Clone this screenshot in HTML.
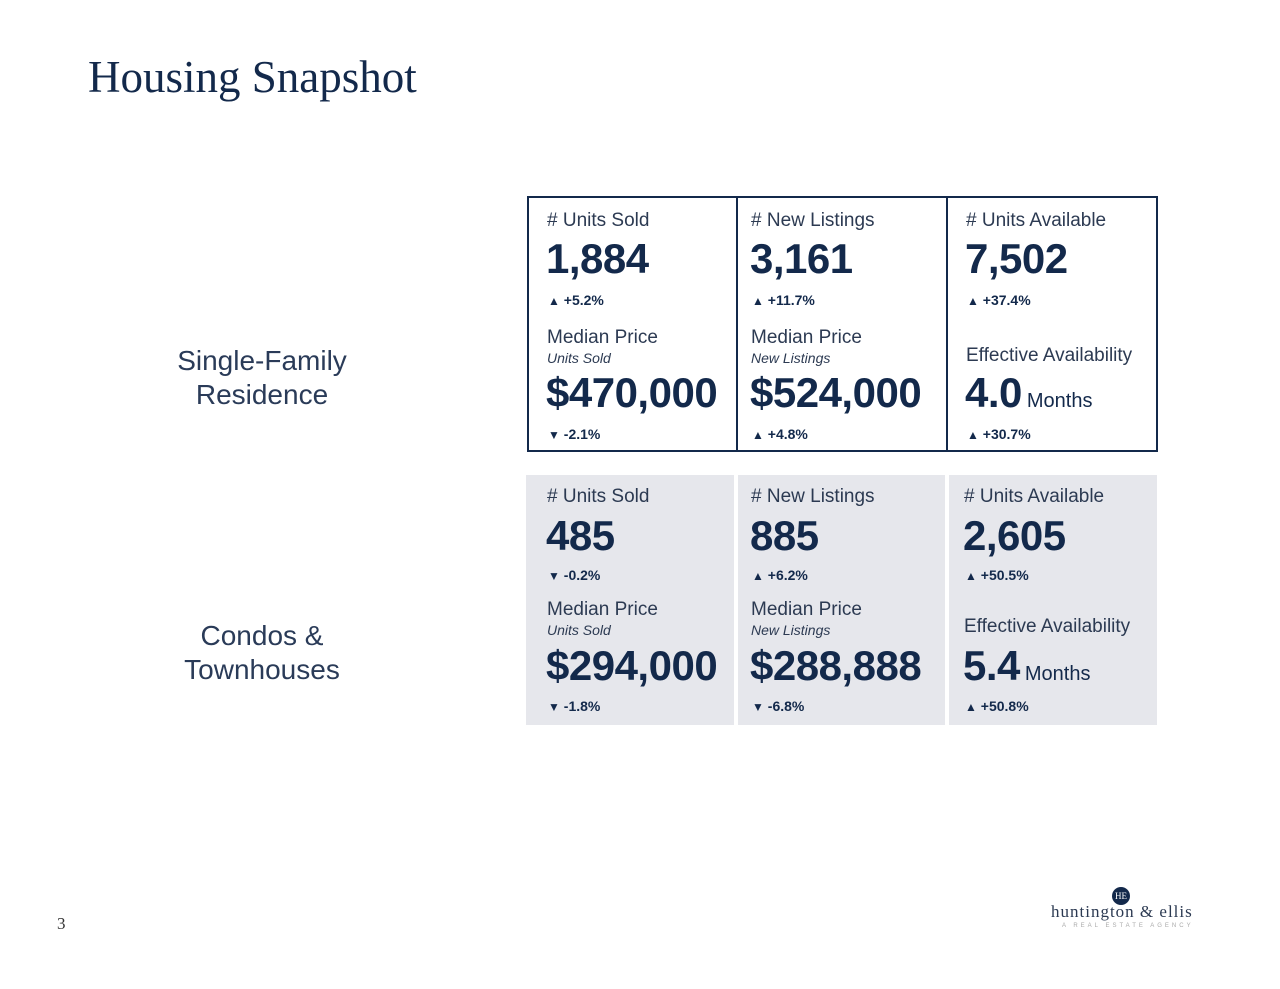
<!DOCTYPE html>
<html><head><meta charset="utf-8"><style>
body{margin:0;width:1280px;height:989px;background:#fff;position:relative;overflow:hidden;font-family:"Liberation Sans",sans-serif;color:#13294b}
.a{position:absolute;white-space:nowrap}
.lab{font-size:19px;line-height:24px;color:#2c3a52}
.big{font-size:42px;line-height:48px;font-weight:bold;color:#13294b;letter-spacing:-0.5px}
.chg{font-size:14px;line-height:18px;font-weight:bold}
.chg .t{font-size:12px}
.sub{font-size:14px;line-height:18px;font-style:italic;color:#2c3a52}
.mo{font-size:20px;font-weight:normal;letter-spacing:0;margin-left:5px}
.side{font-size:28px;line-height:34px;text-align:center;width:300px;left:112px;color:#2a3b58}
.box{position:absolute;box-sizing:border-box}
</style></head><body>
<div class="a" style="left:88px;top:51px;font-family:'Liberation Serif',serif;font-size:45px;line-height:52px">Housing Snapshot</div>

<div class="a side" style="top:344px">Single-Family<br>Residence</div>
<div class="a side" style="top:619px">Condos &amp;<br>Townhouses</div>

<div class="box" style="left:527px;top:196px;width:631px;height:256px;border:2px solid #13294b"></div>
<div class="box" style="left:736px;top:196px;width:2px;height:256px;background:#13294b"></div>
<div class="box" style="left:946px;top:196px;width:2px;height:256px;background:#13294b"></div>

<div class="box" style="left:526px;top:475px;width:208px;height:250px;background:#e6e7ec"></div>
<div class="box" style="left:738px;top:475px;width:207px;height:250px;background:#e6e7ec"></div>
<div class="box" style="left:949px;top:475px;width:208px;height:250px;background:#e6e7ec"></div>

<div class="a lab" style="left:547px;top:209px"># Units Sold</div>
<div class="a big" style="left:546px;top:235px">1,884</div>
<div class="a chg" style="left:548px;top:291px"><span class="t">▲</span> +5.2%</div>
<div class="a lab" style="left:547px;top:326px">Median Price</div>
<div class="a sub" style="left:547px;top:349px">Units Sold</div>
<div class="a big" style="left:546px;top:369px">$470,000</div>
<div class="a chg" style="left:548px;top:425px"><span class="t">▼</span> -2.1%</div>

<div class="a lab" style="left:751px;top:209px"># New Listings</div>
<div class="a big" style="left:750px;top:235px">3,161</div>
<div class="a chg" style="left:752px;top:291px"><span class="t">▲</span> +11.7%</div>
<div class="a lab" style="left:751px;top:326px">Median Price</div>
<div class="a sub" style="left:751px;top:349px">New Listings</div>
<div class="a big" style="left:750px;top:369px">$524,000</div>
<div class="a chg" style="left:752px;top:425px"><span class="t">▲</span> +4.8%</div>

<div class="a lab" style="left:966px;top:209px"># Units Available</div>
<div class="a big" style="left:965px;top:235px">7,502</div>
<div class="a chg" style="left:967px;top:291px"><span class="t">▲</span> +37.4%</div>
<div class="a lab" style="left:966px;top:344px">Effective Availability</div>
<div class="a big" style="left:965px;top:369px">4.0<span class="mo">Months</span></div>
<div class="a chg" style="left:967px;top:425px"><span class="t">▲</span> +30.7%</div>

<div class="a lab" style="left:547px;top:485px"># Units Sold</div>
<div class="a big" style="left:546px;top:512px">485</div>
<div class="a chg" style="left:548px;top:566px"><span class="t">▼</span> -0.2%</div>
<div class="a lab" style="left:547px;top:598px">Median Price</div>
<div class="a sub" style="left:547px;top:621px">Units Sold</div>
<div class="a big" style="left:546px;top:642px">$294,000</div>
<div class="a chg" style="left:548px;top:697px"><span class="t">▼</span> -1.8%</div>

<div class="a lab" style="left:751px;top:485px"># New Listings</div>
<div class="a big" style="left:750px;top:512px">885</div>
<div class="a chg" style="left:752px;top:566px"><span class="t">▲</span> +6.2%</div>
<div class="a lab" style="left:751px;top:598px">Median Price</div>
<div class="a sub" style="left:751px;top:621px">New Listings</div>
<div class="a big" style="left:750px;top:642px">$288,888</div>
<div class="a chg" style="left:752px;top:697px"><span class="t">▼</span> -6.8%</div>

<div class="a lab" style="left:964px;top:485px"># Units Available</div>
<div class="a big" style="left:963px;top:512px">2,605</div>
<div class="a chg" style="left:965px;top:566px"><span class="t">▲</span> +50.5%</div>
<div class="a lab" style="left:964px;top:615px">Effective Availability</div>
<div class="a big" style="left:963px;top:642px">5.4<span class="mo">Months</span></div>
<div class="a chg" style="left:965px;top:697px"><span class="t">▲</span> +50.8%</div>

<div class="a" style="left:57px;top:914px;font-family:'Liberation Serif',serif;font-size:17px;line-height:20px;color:#333">3</div>

<div class="a" style="left:1112px;top:887px;width:18px;height:18px;border-radius:50%;background:#13294b;color:#fff;font-family:'Liberation Serif',serif;font-size:9px;line-height:18px;text-align:center">HE</div>
<div class="a" style="left:1051px;top:902px;font-family:'Liberation Serif',serif;font-size:17px;line-height:20px;letter-spacing:1px;color:#2c3a52">huntington &amp; ellis</div>
<div class="a" style="left:1062px;top:922px;font-size:6px;line-height:8px;letter-spacing:3px;color:#aaa">A REAL ESTATE AGENCY</div>
</body></html>
